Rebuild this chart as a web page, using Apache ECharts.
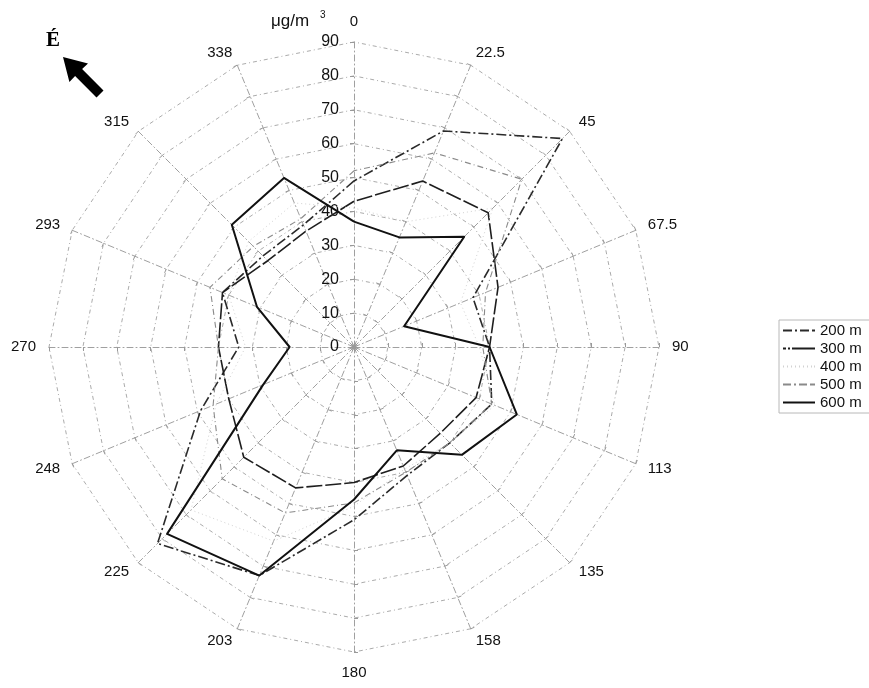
<!DOCTYPE html>
<html><head><meta charset="utf-8">
<script src="https://cdn.jsdelivr.net/npm/echarts@6/dist/echarts.min.js"></script>
<style>html,body{margin:0;padding:0;background:#fff}#c{width:869px;height:688px}</style>
</head><body><div id="c"></div>
<script>
// Wind directions (degrees, clockwise from north)
const directions = ['0','22.5','45','67.5','90','113','135','158','180','203','225','248','270','293','315','338'];
const seriesNames = ['200 m','300 m','400 m','500 m','600 m'];
// concentration values (µg/m3) per direction, in the order of `directions`
const v200 = [49, 69, 87, 38, 40, 44, 40, 41, 51, 73, 82, 49, 34, 42, 38, 39];
const v300 = [43, 53, 56, 46, 40, 39, 36, 38, 40, 45, 46, 40, 40, 42, 36, 37];
const v400 = [41, 40, 58, 34, 37, 45, 40, 39, 47, 62, 68, 44, 32, 40, 44, 46];
const v500 = [52, 62, 70, 42, 38, 44, 40, 40, 46, 53, 55, 45, 40, 46, 42, 41];
const v600 = [37, 35, 46, 16, 40, 52, 45, 33, 45, 73, 78, 29, 19, 31, 51, 54];
const radialMin = 0, radialMax = 90, radialStep = 10;

const values = [v200, v300, v400, v500, v600];
const styles = [
  {color:'#2a2a2a', width:1.6, type:[10,3,2,3], icon:'path://M0,0h9v2h-9zM12,0h2v2h-2zM17,0h9v2h-9zM29,0h3v2h-3z'},
  {color:'#1e1e1e', width:1.6, type:[16,3], icon:'path://M0,0h3v2h-3zM5,0h2v2h-2zM9,0h23v2h-23z'},
  {color:'#d2d2d2', width:1, type:[1,3], icon:'path://M0,0h1v2h-1zM4,0h1v2h-1zM8,0h1v2h-1zM12,0h1v2h-1zM16,0h1v2h-1zM20,0h1v2h-1zM24,0h1v2h-1zM28,0h1v2h-1zM31,0h1v2h-1z'},
  {color:'#8a8a8a', width:1.1, type:[6,3,1,3], icon:'path://M0,0h8v2h-8zM11,0h2v2h-2zM16,0h8v2h-8zM27,0h5v2h-5z'},
  {color:'#111111', width:2, type:'solid', icon:'path://M0,0h32v2h-32z'}
];

// radar places indicators counter-clockwise; reorder to get clockwise compass layout
const order = directions.map((d, i) => i === 0 ? 0 : directions.length - i);
const indicator = order.map((i, k) => ({
  name: directions[i], min: radialMin, max: radialMax,
  axisLabel: {show: k === 0}
}));

const font = 'Liberation Sans';
const chart = echarts.init(document.getElementById('c'), null, {renderer:'canvas'});
chart.setOption({
  backgroundColor: '#fff',
  animation: false,
  legend: {
    orient: 'vertical', left: 779, top: 320,
    itemWidth: 32, itemHeight: 2, itemGap: 3,
    padding: [3, 8, 3, 4],
    borderColor: '#b8b8b8', borderWidth: 1,
    textStyle: {color:'#111', fontSize: 15, fontFamily: font},
    data: seriesNames.map((n, i) => ({name: n, icon: styles[i].icon}))
  },
  radar: {
    center: [354, 347], radius: 305, startAngle: 90,
    shape: 'polygon', splitNumber: (radialMax - radialMin) / radialStep,
    indicator: indicator,
    nameGap: 13,
    axisName: {color:'#111', fontSize: 15, fontFamily: font},
    axisLine: {lineStyle: {color:'#a0a0a0', width: 1, type: [6,3,1,3]}},
    splitLine: {lineStyle: {color:'#ababab', width: 1, type: [4,3,1,3]}},
    splitArea: {show: false},
    axisTick: {show: true, length: 4, lineStyle: {color:'#999'}},
    axisLabel: {show: false, color:'#111', fontSize: 16, fontFamily: font, margin: 15}
  },
  series: [{
    type: 'radar', symbol: 'none',
    data: values.map((arr, i) => ({
      name: seriesNames[i],
      value: order.map(j => arr[j]),
      lineStyle: {color: styles[i].color, width: styles[i].width, type: styles[i].type},
      itemStyle: {color: styles[i].color}
    }))
  }],
  graphic: [
    {type:'text', left: 271, top: 13, style:{text:'μg/m', font:'17px "Liberation Sans"', fill:'#111'}},
    {type:'text', left: 320, top: 10, style:{text:'3', font:'10px "Liberation Sans"', fill:'#111'}},
    {type:'text', left: 46, top: 30, style:{text:'É', font:'bold 21px "Liberation Serif"', fill:'#000'}},
    {type:'polygon', shape:{points:[[63,57],[88,63.4],[82.1,69.1],[103.5,90.5],[96.5,97.5],[75.1,76.1],[69.4,82]]}, style:{fill:'#000'}}
  ]
});
</script>
</body></html>
